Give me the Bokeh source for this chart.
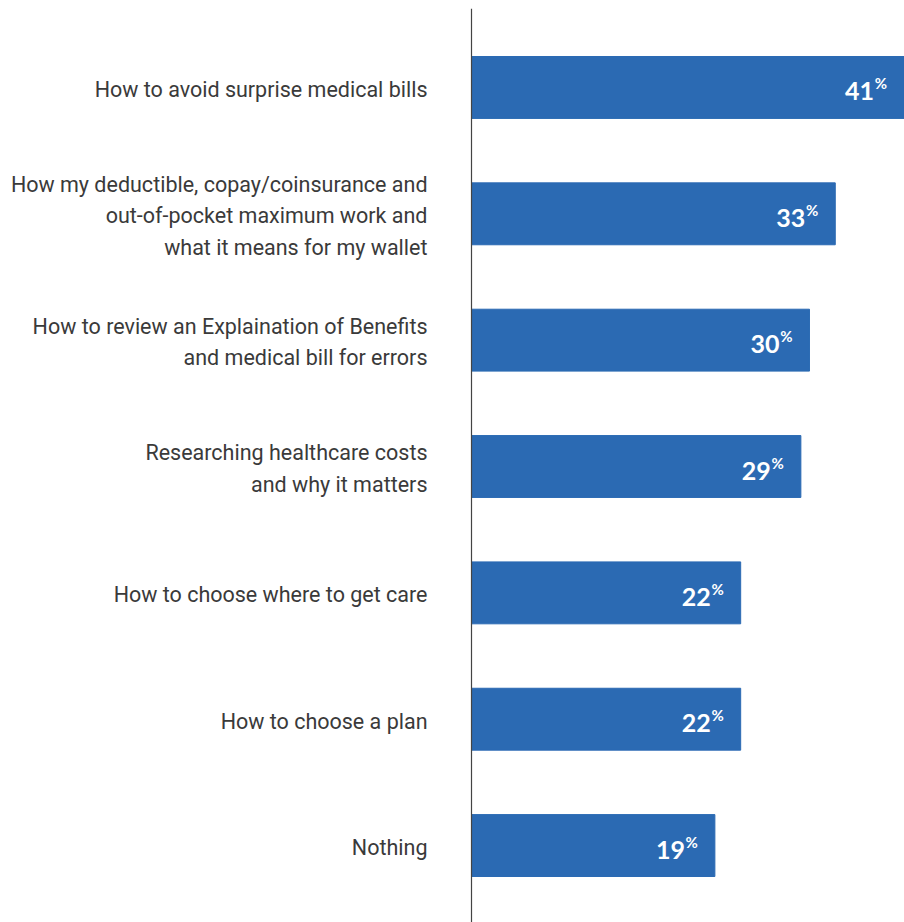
from bokeh.plotting import figure
from bokeh.models import Range1d, Span, ColumnDataSource
from bokeh.core.properties import value
from bokeh.embed import file_html
from bokeh.resources import INLINE

categories = [
    "How to avoid surprise medical bills",
    "How my deductible, copay/coinsurance and\nout-of-pocket maximum work and\nwhat it means for my wallet",
    "How to review an Explaination of Benefits\nand medical bill for errors",
    "Researching healthcare costs\nand why it matters",
    "How to choose where to get care",
    "How to choose a plan",
    "Nothing",
]
percentages = [41, 33, 30, 29, 22, 22, 19]

BAR_COLOR = "#2B6AB3"
TEXT_COLOR = "#3a3a3a"
BASELINE = -9.3
LABEL_FONT = "Roboto"
VALUE_FONT = "Lato"

positions = list(range(len(categories)))
src = ColumnDataSource(dict(
    y=positions,
    cat=categories,
    val=percentages,
    num=[str(v) for v in percentages],
    pct=["%"] * len(percentages),
    left=[BASELINE] * len(percentages),
))

p = figure(
    width=904, height=922,
    x_range=Range1d(-64.07, 41.05),
    y_range=Range1d(len(categories) - 1 + 0.609, -0.625),
    output_backend="svg", toolbar_location=None,
    min_border_left=0, min_border_right=0, min_border_top=8, min_border_bottom=0,
)
p.axis.visible = False
p.grid.visible = False
p.outline_line_color = None
p.background_fill_color = "white"
p.border_fill_color = "white"

p.hbar(y="y", left="left", right="val", height=0.49, color=BAR_COLOR, source=src)

p.add_layout(Span(location=BASELINE, dimension="height", line_color="#444444", line_width=1.2))

p.text(x=BASELINE, y="y", text="cat", source=src, x_offset=-44, y_offset=2,
       text_align="right", text_baseline="middle", text_font=value(LABEL_FONT),
       text_font_size="21.5px", text_color=TEXT_COLOR, text_line_height=1.25)

p.text(x="val", y="y", text="num", source=src, x_offset=-30, y_offset=4,
       text_align="right", text_baseline="middle", text_font=value(VALUE_FONT),
       text_font_style="bold", text_font_size="25px", text_color="white")
p.text(x="val", y="y", text="pct", source=src, x_offset=-17, y_offset=-4,
       text_align="right", text_baseline="middle", text_font=value(VALUE_FONT),
       text_font_style="bold", text_font_size="15px", text_color="white")

open("out.html", "w").write(file_html(p, INLINE))
